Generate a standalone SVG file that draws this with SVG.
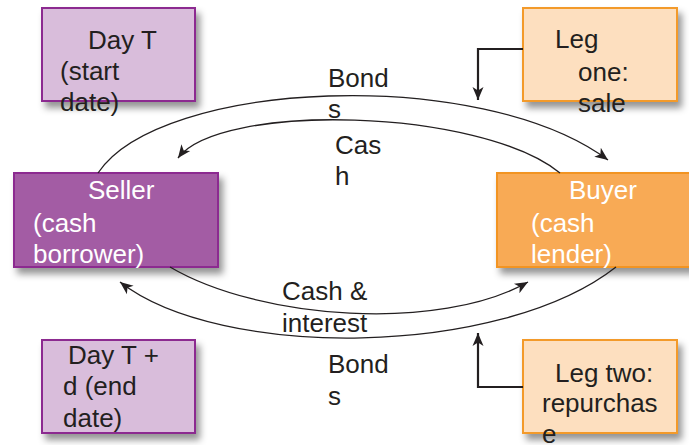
<svg xmlns="http://www.w3.org/2000/svg" width="689" height="445" viewBox="0 0 689 445">
  <style>
    text { font-family: "Liberation Sans", Arial, sans-serif; font-size: 26px; fill: #231f20; }
    .light text { fill: #ffffff; }
    .day { fill: #d9bddb; stroke: #8c2b90; stroke-width: 2; }
    .seller { fill: #a35ba4; stroke: #8c2b90; stroke-width: 2; }
    .buyer { fill: #f8aa55; stroke: #f29423; stroke-width: 2; }
    .leg { fill: #fddfbf; stroke: #f39a2a; stroke-width: 2; }
    .arc { fill: none; stroke: #231f20; stroke-width: 1.3; marker-end: url(#head); }
    .elbow { fill: none; stroke: #231f20; stroke-width: 2.2; marker-end: url(#head); }
  </style>
  <defs>
    <filter id="shadow" x="-10%" y="-10%" width="130%" height="145%">
      <feDropShadow dx="4" dy="6" stdDeviation="3.5" flood-color="#000" flood-opacity="0.42"/>
    </filter>
    <marker id="head" markerUnits="userSpaceOnUse" markerWidth="16" markerHeight="14" refX="13" refY="7" orient="auto">
      <path d="M0,1.5 L13,7 L0,12.5 L3.5,7 Z" fill="#231f20"/>
    </marker>
  </defs>

  <rect width="689" height="445" fill="#ffffff"/>

  <!-- boxes -->
  <g id="day-t">
    <rect class="day" x="42" y="8" width="153" height="93" filter="url(#shadow)"/>
    <text x="88" y="49">Day T</text>
    <text x="60" y="80">(start</text>
    <text x="60" y="111">date)</text>
  </g>

  <g id="leg-one">
    <rect class="leg" x="523" y="8" width="154" height="93" filter="url(#shadow)"/>
    <text x="555" y="48">Leg</text>
    <text x="578" y="81">one:</text>
    <text x="578" y="112">sale</text>
  </g>

  <g id="seller" class="light">
    <rect class="seller" x="14" y="173" width="204" height="94" filter="url(#shadow)"/>
    <text x="88" y="199">Seller</text>
    <text x="33" y="232">(cash</text>
    <text x="33" y="263">borrower)</text>
  </g>

  <g id="buyer" class="light">
    <rect class="buyer" x="497" y="173" width="200" height="94" filter="url(#shadow)"/>
    <text x="569" y="199">Buyer</text>
    <text x="531" y="232">(cash</text>
    <text x="531" y="263">lender)</text>
  </g>

  <g id="day-t-d">
    <rect class="day" x="42" y="340" width="153" height="93" filter="url(#shadow)"/>
    <text x="68" y="364">Day T +</text>
    <text x="63" y="395">d (end</text>
    <text x="63" y="427">date)</text>
  </g>

  <g id="leg-two">
    <rect class="leg" x="523" y="340" width="154" height="93" filter="url(#shadow)"/>
    <text x="555" y="382">Leg two:</text>
    <text x="542" y="412">repurchas</text>
    <text x="542" y="443">e</text>
  </g>

  <!-- connectors -->
  <g id="connectors">
    <path class="arc" d="M98,173 C160,80 480,65 608,160"/>
    <path class="arc" d="M560,173 C480,108 220,102 178,158"/>
    <path class="arc" d="M170,267 C260,320 440,332 528,282"/>
    <path class="arc" d="M616,267 C500,358 220,360 120,282"/>
    <path class="elbow" d="M523,49 H478 V100"/>
    <path class="elbow" d="M523,387 H478 V333"/>
  </g>

  <!-- flow labels -->
  <g id="labels">
    <text x="328" y="87">Bond</text>
    <text x="328" y="118">s</text>
    <text x="335" y="154">Cas</text>
    <text x="335" y="185">h</text>
    <text x="282" y="300">Cash &amp;</text>
    <text x="282" y="332">interest</text>
    <text x="328" y="373">Bond</text>
    <text x="328" y="405">s</text>
  </g>
</svg>
